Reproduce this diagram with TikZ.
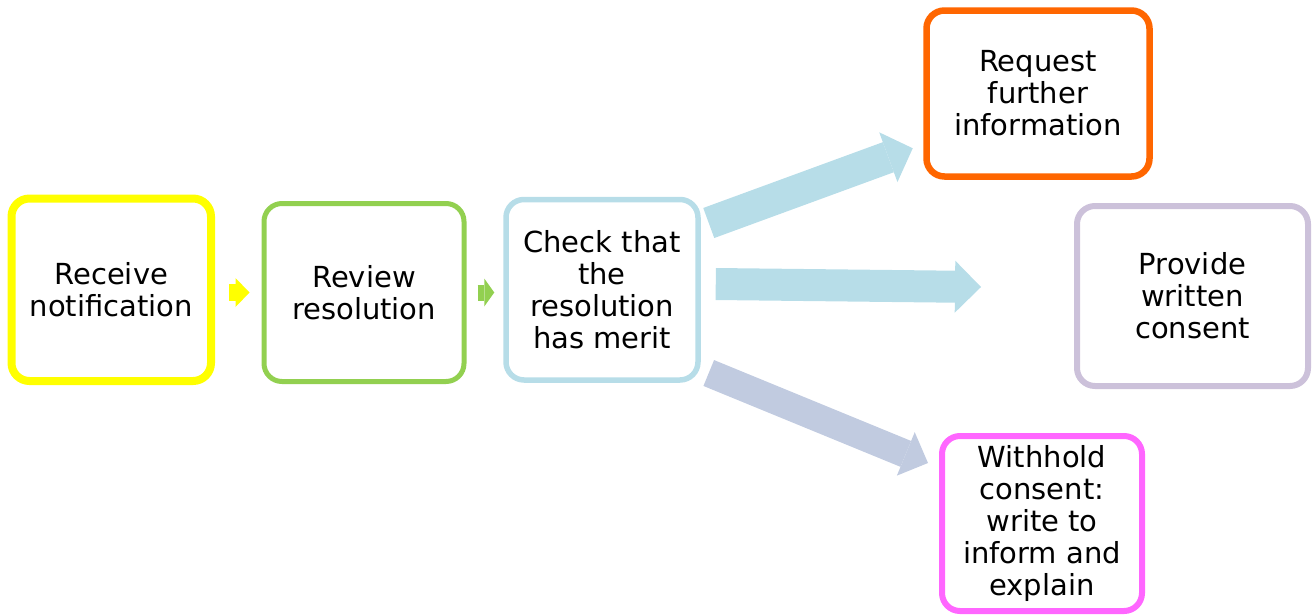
\documentclass[tikz,border=0pt]{standalone}
\usepackage{fontspec}
\setmainfont{DejaVu Sans}
\usetikzlibrary{arrows.meta,positioning,calc}

\definecolor{recyellow}{HTML}{FFFF00}
\definecolor{revgreen}{HTML}{92D050}
\definecolor{chkblue}{HTML}{B7DDE8}
\definecolor{reqorange}{HTML}{FF6600}
\definecolor{conlilac}{HTML}{CCC1DA}
\definecolor{wthpink}{HTML}{FF66FF}
\definecolor{wthgrey}{HTML}{C1CBE0}

\tikzset{
  stepbox/.style={draw, rounded corners=18pt, align=center, inner sep=0pt,
    font=\fontsize{29}{32}\selectfont},
  flow/.style n args={4}{draw=#1, line width=#2,
    -{Triangle[width=#3, length=#4, line width=0pt]}}
}

\begin{document}
\begin{tikzpicture}[x=1pt,y=-1pt]
\useasboundingbox (0,0) rectangle (1312,614);
\clip (0,0) rectangle (1312,614);

\node[stepbox, draw=recyellow, line width=8pt, minimum width=199.5pt, minimum height=182.5pt]
  (rec) at (111.25,289.75) {Receive\\notification};
\node[stepbox, draw=revgreen, line width=5pt, minimum width=200pt, minimum height=178pt]
  (rev) at (364,292.5) {Review\\resolution};
\node[stepbox, draw=chkblue, line width=5.5pt, minimum width=192pt, minimum height=180.5pt]
  (chk) at (602,289.75) {Check that\\the\\resolution\\has merit};
\node[stepbox, draw=reqorange, line width=6.5pt, minimum width=223pt, minimum height=166pt]
  (req) at (1038,93.5) {Request\\further\\information};
\node[stepbox, draw=conlilac, line width=6pt, minimum width=231pt, minimum height=180pt]
  (con) at (1192.5,296) {Provide\\written\\consent};
\node[stepbox, draw=wthpink, line width=6pt, minimum width=200pt, minimum height=175pt]
  (wth) at (1042,523.5) {Withhold\\consent:\\write to\\inform and\\explain};

\draw[flow={recyellow}{17pt}{29pt}{14pt}]
  ($(rec.east |- rev.west)+(14,0)$) -- ($(rev.west)+(-12,0)$);
\draw[flow={revgreen}{16pt}{28pt}{10pt}]
  ($(rev.east)+(11,0)$) -- ($(chk.west |- rev.east)+(-9,0)$);

\coordinate (up0) at ($(chk.east)+(8,-66.75)$);
\coordinate (up1) at ($(req.south west)+(-10.5,-31.5)$);
\coordinate (mid0) at ($(chk.east)+(15,-5.75)$);
\coordinate (mid1) at ($(con.west)+(-93,-9)$);
\coordinate (low0) at ($(chk.east)+(8,83.25)$);
\coordinate (low1) at ($(wth.north west)+(-11,30)$);

\draw[flow={chkblue}{32pt}{53pt}{26pt}] (up0) -- (up1);
\draw[flow={chkblue}{32pt}{52pt}{26pt}] (mid0) -- (mid1);
\draw[flow={wthgrey}{28pt}{47pt}{24pt}] (low0) -- (low1);
\end{tikzpicture}
\end{document}
